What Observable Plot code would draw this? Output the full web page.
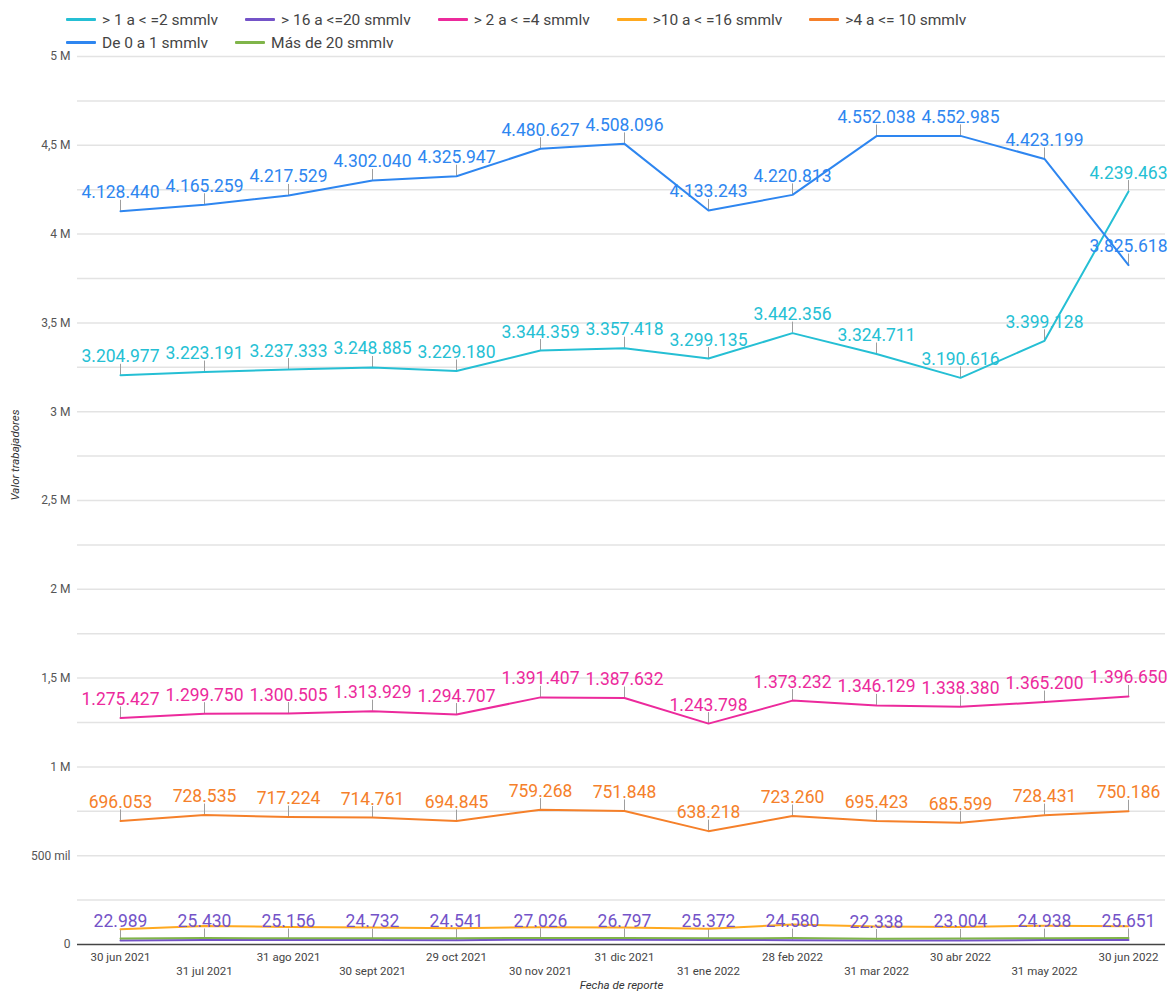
<!DOCTYPE html>
<html>
<head>
<meta charset="utf-8">
<script src="https://cdn.jsdelivr.net/npm/d3@7"></script>
<script src="https://cdn.jsdelivr.net/npm/@observablehq/plot@0.6"></script>
<style>
  html, body { margin: 0; padding: 0; background: #fff; }
  body { width: 1169px; height: 996px; overflow: hidden; font-family: Roboto, "Noto Sans", sans-serif; }
  #legend { height: 50px; box-sizing: border-box; padding: 8px 0 0 66px; max-width: 1090px; display: flex; flex-wrap: wrap; align-content: flex-start; }
  .item { display: inline-flex; align-items: center; height: 23px; margin-right: 27px; font-size: 15.5px; color: #444; white-space: nowrap; }
  .sw { width: 30px; height: 3px; margin-right: 6px; border-radius: 1px; }
  #chart svg { display: block; }
</style>
</head>
<body>
<div id="legend"></div>
<div id="chart"></div>
<script>
const fechas = ["30 jun 2021","31 jul 2021","31 ago 2021","30 sept 2021","29 oct 2021","30 nov 2021","31 dic 2021","31 ene 2022","28 feb 2022","31 mar 2022","30 abr 2022","31 may 2022","30 jun 2022"];

const series = ["> 1 a < =2 smmlv", "> 16 a <=20 smmlv", "> 2 a < =4 smmlv", ">10 a < =16 smmlv", ">4 a <= 10 smmlv", "De 0 a 1 smmlv", "Más de 20 smmlv"];
const colores = ["#25bfd4", "#7453c8", "#ec2a9c", "#ffa91f", "#f5802a", "#2e86f0", "#80b54a"];

const de0a1   = [4128440, 4165259, 4217529, 4302040, 4325947, 4480627, 4508096, 4133243, 4220813, 4552038, 4552985, 4423199, 3825618];
const de1a2   = [3204977, 3223191, 3237333, 3248885, 3229180, 3344359, 3357418, 3299135, 3442356, 3324711, 3190616, 3399128, 4239463];
const de2a4   = [1275427, 1299750, 1300505, 1313929, 1294707, 1391407, 1387632, 1243798, 1373232, 1346129, 1338380, 1365200, 1396650];
const de4a10  = [696053, 728535, 717224, 714761, 694845, 759268, 751848, 638218, 723260, 695423, 685599, 728431, 750186];
const de10a16 = [86000, 104000, 99000, 96000, 92000, 97000, 96000, 88000, 113000, 102000, 99000, 106000, 103000];
const de16a20 = [22989, 25430, 25156, 24732, 24541, 27026, 26797, 25372, 24580, 22338, 23004, 24938, 25651];
const mas20   = [34000, 36000, 35500, 35000, 34500, 37000, 36500, 35000, 36000, 33000, 33500, 35500, 36000];

const valoresPorSerie = {
  "> 1 a < =2 smmlv": de1a2,
  "> 16 a <=20 smmlv": de16a20,
  "> 2 a < =4 smmlv": de2a4,
  ">10 a < =16 smmlv": de10a16,
  ">4 a <= 10 smmlv": de4a10,
  "De 0 a 1 smmlv": de0a1,
  "Más de 20 smmlv": mas20
};
const conEtiqueta = ["> 1 a < =2 smmlv", "> 16 a <=20 smmlv", "> 2 a < =4 smmlv", ">4 a <= 10 smmlv", "De 0 a 1 smmlv"];
const yTicks = [0, 500000, 1000000, 1500000, 2000000, 2500000, 3000000, 3500000, 4000000, 4500000, 5000000];
const yGrid = [250000, 500000, 750000, 1000000, 1250000, 1500000, 1750000, 2000000, 2250000, 2500000, 2750000, 3000000, 3250000, 3500000, 3750000, 4000000, 4250000, 4500000, 4750000, 5000000];

// build tidy table
const data = [];
for (const s of series) valoresPorSerie[s].forEach((v, i) => data.push({serie: s, fecha: fechas[i], valor: v}));
const etiquetados = data.filter(d => conEtiqueta.includes(d.serie));

const loc = d3.formatLocale({decimal: ",", thousands: ".", grouping: [3], currency: ["$", ""]});
const fmt = loc.format(",d");
const fmtY = v => v === 0 ? "0" : v < 1e6 ? (v / 1000) + " mil" : String(v / 1e6).replace(".", ",") + " M";

// legend
const leg = document.getElementById("legend");
series.forEach((s, i) => {
  const it = document.createElement("div");
  it.className = "item";
  it.innerHTML = `<span class="sw" style="background:${colores[i]}"></span><span>${s}</span>`;
  leg.appendChild(it);
});

const chart = Plot.plot({
  width: 1169,
  height: 946,
  marginTop: 6,
  marginBottom: 52,
  marginLeft: 77,
  marginRight: 4,
  style: {fontFamily: "Roboto, 'Noto Sans', sans-serif", background: "#fff"},
  x: {type: "point", domain: fechas, range: [119, 1128], padding: 0},
  y: {domain: [0, 5000000]},
  color: {domain: series, range: colores},
  marks: [
    Plot.ruleY(yGrid, {stroke: "#e3e3e3", strokeWidth: 1.5}),
    Plot.ruleY([0], {stroke: "#444", strokeWidth: 1.5}),
    Plot.axisY(yTicks, {tickFormat: fmtY, tickSize: 0, tickPadding: 7, fontSize: 12, color: "#555", label: null}),
    Plot.axisX(fechas.filter((d, i) => i % 2 === 0), {tickSize: 0, tickPadding: 8, fontSize: 11.5, color: "#444", label: null}),
    Plot.axisX(fechas.filter((d, i) => i % 2 === 1), {tickSize: 0, tickPadding: 22, fontSize: 11.5, color: "#444", label: null}),
    Plot.text(["Fecha de reporte"], {frameAnchor: "bottom", dy: 44, fontSize: 11.5, fontStyle: "italic", fill: "#333"}),
    Plot.text(["Valor trabajadores"], {frameAnchor: "left", dx: -62, dy: 0, rotate: -90, fontSize: 11.5, fontStyle: "italic", fill: "#333"}),
    Plot.ruleX(etiquetados, {x: "fecha", y1: "valor", y2: "valor", insetTop: -11, stroke: "#9e9e9e", strokeWidth: 1}),
    Plot.line(data, {x: "fecha", y: "valor", z: "serie", stroke: "serie", strokeWidth: 2}),
    Plot.text(etiquetados, {x: "fecha", y: "valor", text: d => fmt(d.valor), fill: "serie", dy: -13, lineAnchor: "bottom", fontSize: 17.5})
  ]
});
document.getElementById("chart").appendChild(chart);
</script>
</body>
</html>
